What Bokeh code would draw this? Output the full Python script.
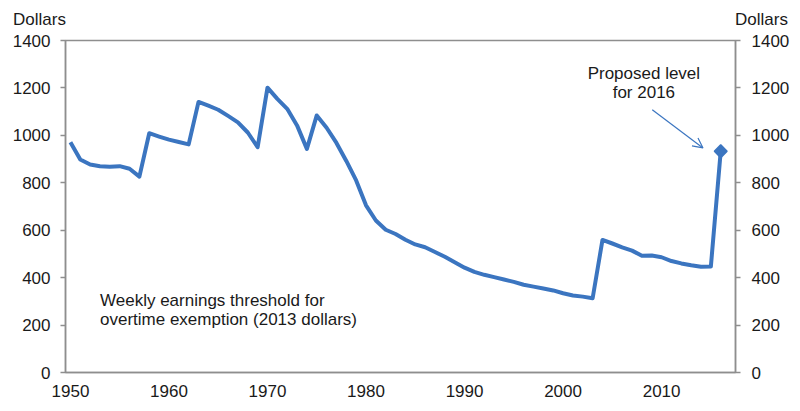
import math
from bokeh.plotting import figure
from bokeh.models import (LinearAxis, FixedTicker, Range1d, Label, Arrow, OpenHead,
                          ColumnDataSource)
from bokeh.embed import file_html
from bokeh.resources import INLINE

years = list(range(1950, 2017))
threshold = [
    971, 898, 877, 870, 868, 870, 859, 826, 1009, 995,      # 1950-1959
    982, 972, 962, 1141, 1125, 1108, 1082, 1055, 1012, 950, # 1960-1969
    1201, 1154, 1112, 1042, 943, 1084, 1032, 968, 892, 810, # 1970-1979
    705, 641, 602, 584, 560, 540, 528, 508, 488, 465,       # 1980-1989
    442, 424, 412, 402, 392, 382, 370, 362, 354, 346,       # 1990-1999
    334, 325, 320, 313, 559, 544, 528, 514, 492, 493,       # 2000-2009
    486, 470, 460, 452, 446, 447, 933,                      # 2010-2016
]
proposed_year = [2016]
proposed_value = [933]

x_ticks = [1950, 1960, 1970, 1980, 1990, 2000, 2010]
y_ticks = [0, 200, 400, 600, 800, 1000, 1200, 1400]
unit_label = "Dollars"

FONT = "Liberation Sans"
TXT = "#1a1a1a"
AX = "#8e8e8e"
BLUE = "#3B75C0"
NBSP = "\u00a0"

p = figure(width=800, height=411, output_backend="svg", toolbar_location=None,
           x_range=Range1d(1949.5, 2017.5), y_range=Range1d(0, 1400),
           min_border_left=65, min_border_right=65, min_border_top=40, min_border_bottom=39)
p.background_fill_color = "white"
p.border_fill_color = "white"
p.outline_line_color = AX
p.outline_line_width = 1.5
p.grid.visible = False
p.extra_x_ranges = {"hdr": Range1d(0, 1)}

def style_axis(ax, ticks, tick_len):
    ax.ticker = FixedTicker(ticks=ticks)
    ax.axis_line_color = AX
    ax.axis_line_width = 1.5
    ax.major_tick_line_color = AX if tick_len else None
    ax.major_tick_line_width = 1.5
    ax.major_tick_out = tick_len
    ax.major_tick_in = 0
    ax.minor_tick_line_color = None
    ax.major_label_text_font = FONT
    ax.major_label_text_font_size = "17px"
    ax.major_label_text_color = TXT

style_axis(p.xaxis[0], x_ticks, 0)
p.xaxis[0].major_label_standoff = 12
style_axis(p.yaxis[0], y_ticks, 5)
p.yaxis[0].major_label_standoff = 10

right = LinearAxis(y_range_name="default")
p.add_layout(right, "right")
style_axis(right, y_ticks, 5)
right.major_label_standoff = 11

# "Dollars" unit captions above both value axes
hdr = LinearAxis(x_range_name="hdr")
style_axis(hdr, [0, 1], 0)
hdr.axis_line_color = None
hdr.major_label_standoff = 12
hdr.major_label_overrides = {0: unit_label + NBSP * 11, 1: NBSP * 11 + unit_label}
p.add_layout(hdr, "above")

src = ColumnDataSource(dict(x=years, y=threshold))
p.line("x", "y", source=src, line_color=BLUE, line_width=4, line_join="round")
p.scatter(proposed_year, proposed_value, marker="square", size=9, angle=math.pi / 4,
          fill_color=BLUE, line_color=BLUE, line_width=1.5)

# Annotations
p.add_layout(Label(x=2008.2, y=1262, text="Proposed level",
                   text_font=FONT, text_font_size="17px", text_color=TXT,
                   text_align="center", text_baseline="middle"))
p.add_layout(Label(x=2008.2, y=1181, text="for 2016",
                   text_font=FONT, text_font_size="17px", text_color=TXT,
                   text_align="center", text_baseline="middle"))
p.add_layout(Arrow(x_start=2009.05, y_start=1108, x_end=2014.2, y_end=947,
                   line_color=BLUE, line_width=1.2,
                   end=OpenHead(size=10, line_color=BLUE, line_width=1.2)))

p.add_layout(Label(x=1953.0, y=304, text="Weekly earnings threshold for",
                   text_font=FONT, text_font_size="17px", text_color=TXT,
                   text_align="left", text_baseline="middle"))
p.add_layout(Label(x=1953.0, y=224, text="overtime exemption (2013 dollars)",
                   text_font=FONT, text_font_size="17px", text_color=TXT,
                   text_align="left", text_baseline="middle"))

open("out.html", "w").write(file_html(p, INLINE))
